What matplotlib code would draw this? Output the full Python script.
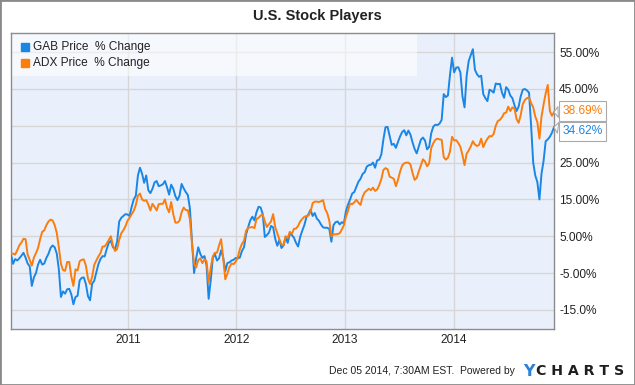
import numpy as np
import pandas as pd
import matplotlib
matplotlib.use("Agg")
import matplotlib.pyplot as plt
from matplotlib.patches import Rectangle

plt.rcParams["font.family"] = ["Liberation Sans", "DejaVu Sans"]

# weekly % change, Dec 04 2009 .. Dec 05 2014
start = "2009-12-04"
gab = [
    0.0, -2.5, -1.2, -1.6, -1.0, -0.3, 0.5, -0.8, -2.4, -3.2,
    -8.5, -6.2, -5.0, -2.7, -1.4, -2.7, -2.4, -0.9, 0.2, 1.8,
    2.5, 2.0, 0.3, -4.0, -11.5, -10.0, -10.6, -9.4, -9.3, -10.8,
    -13.5, -11.5, -11.2, -7.0, -6.3, -6.2, -8.0, -11.3, -12.4, -7.9,
    -7.1, -4.8, -2.6, -1.2, -0.4, -0.5, 1.5, 3.2, 3.8, 2.0,
    1.5, 3.5, 9.0, 10.0, 10.5, 11.0, 10.9, 10.5, 13.0, 15.0,
    16.0, 21.5, 23.6, 22.0, 19.5, 21.5, 17.5, 16.7, 17.9, 19.6,
    20.0, 18.6, 18.8, 19.1, 20.0, 18.3, 16.3, 19.0, 17.9, 15.9,
    14.8, 16.0, 19.2, 18.0, 17.0, 16.2, 12.5, 3.5, -5.0, -1.0,
    2.0, 0.2, -0.9, -0.4, -3.0, -12.0, -7.0, -0.9, 0.2, -1.6,
    -1.0, 1.2, -0.8, -4.5, -2.3, -2.1, -1.6, -1.4, -0.9, -1.0,
    -0.8, 1.0, 2.0, 5.5, 7.5, 9.3, 10.3, 9.3, 11.5, 13.0,
    12.8, 11.0, 4.8, 5.3, 6.0, 7.8, 7.4, 4.3, 2.4, 4.0,
    1.8, 2.5, 4.8, 3.2, 5.7, 5.3, 4.6, 3.2, 2.2, 4.8,
    6.5, 8.0, 10.2, 11.0, 12.2, 10.5, 11.3, 9.8, 9.2, 8.2,
    7.4, 7.3, 7.3, 7.0, 3.5, 8.0, 8.8, 9.0, 8.2, 8.8,
    8.5, 11.8, 13.6, 15.0, 16.6, 17.0, 18.4, 19.8, 20.6, 21.9,
    22.4, 23.9, 24.3, 24.4, 25.0, 23.6, 25.6, 25.8, 27.2, 31.3,
    34.6, 34.7, 32.3, 29.8, 30.1, 29.0, 30.6, 32.1, 33.3, 33.8,
    32.4, 33.7, 32.6, 30.5, 28.7, 27.5, 29.3, 31.2, 31.8, 31.0,
    28.6, 29.3, 33.0, 34.8, 35.3, 35.2, 35.6, 36.6, 43.6, 42.8,
    43.2, 48.8, 53.5, 49.5, 50.8, 50.9, 49.5, 43.0, 40.0, 48.5,
    52.6, 54.2, 55.8, 50.2, 49.0, 48.3, 48.6, 43.6, 42.5, 41.7,
    44.8, 44.5, 44.0, 46.5, 46.3, 46.4, 44.0, 42.6, 45.5, 44.8,
    43.2, 42.5, 40.6, 39.0, 40.2, 43.0, 44.8, 45.0, 44.6, 44.0,
    35.0, 25.0, 21.5, 19.7, 15.0, 22.0, 25.5, 30.8, 31.3, 32.0,
    33.1, 34.62,
]
adx = [
    0.2, 0.3, 0.0, 1.2, 2.5, 3.3, 4.3, 4.2, 0.0, -1.4,
    -3.0, -0.8, 0.4, 1.8, 4.2, 6.2, 6.6, 8.0, 9.0, 9.5,
    9.3, 8.0, 5.9, 2.0, -2.5, -4.2, -4.4, -2.0, -2.0, -6.0,
    -8.5, -4.0, -4.3, -1.8, -1.4, -1.3, -3.0, -6.5, -8.0, -6.0,
    -2.8, -1.6, -0.5, 0.4, 2.2, 2.2, 3.0, 4.0, 5.0, 2.5,
    1.0, 1.5, 4.0, 5.8, 6.6, 7.7, 9.2, 10.0, 11.0, 11.9,
    13.5, 16.0, 16.6, 15.0, 14.6, 14.8, 13.6, 12.0, 13.8, 13.0,
    12.0, 13.7, 13.8, 13.8, 15.0, 12.7, 11.5, 14.3, 11.0, 8.7,
    8.7, 9.2, 11.5, 12.8, 12.1, 12.1, 9.5, 3.0, -2.5, -3.5,
    -1.5, -1.0, -2.3, -1.3, -1.8, -7.5, -3.6, -0.5, 0.5, 0.5,
    2.5, 4.2, -1.0, -6.7, -5.2, -3.4, -2.4, -2.6, -1.9, -0.8,
    1.5, 2.9, 3.8, 6.5, 7.3, 7.4, 7.5, 7.2, 9.7, 10.0,
    10.6, 10.9, 9.0, 7.5, 8.3, 9.0, 11.0, 7.5, 5.8, 4.1,
    2.8, 2.5, 5.0, 4.5, 6.2, 5.6, 7.0, 7.1, 7.8, 9.0,
    9.7, 10.3, 10.5, 10.6, 11.6, 14.0, 14.4, 14.4, 14.3, 14.5,
    14.8, 12.4, 11.3, 9.2, 5.0, 5.5, 5.5, 5.6, 5.8, 6.8,
    8.0, 10.3, 11.9, 13.9, 13.7, 14.2, 14.9, 14.1, 13.5, 15.7,
    16.9, 17.4, 17.9, 17.5, 18.2, 17.3, 17.7, 18.9, 20.5, 23.0,
    23.5, 23.2, 21.2, 20.9, 20.6, 18.6, 20.3, 22.5, 24.2, 24.8,
    25.0, 25.0, 24.5, 22.2, 20.3, 20.8, 22.6, 24.2, 25.9, 25.3,
    24.0, 24.8, 29.0, 30.3, 31.2, 31.5, 31.3, 31.2, 26.5, 25.8,
    26.3, 28.0, 32.0, 31.0, 31.1, 30.3, 29.3, 27.0, 24.3, 27.4,
    28.3, 29.4, 30.8, 29.9, 29.5, 29.8, 31.5, 29.2, 30.5, 31.5,
    32.2, 32.1, 32.8, 35.0, 36.3, 36.6, 37.3, 38.4, 38.6, 40.2,
    39.0, 40.0, 39.7, 36.8, 35.8, 37.9, 40.9, 42.0, 42.5, 42.7,
    41.2, 40.0, 37.5, 36.0, 31.5, 37.5, 40.8, 43.8, 46.1, 39.0,
    37.7, 38.69,
]
names = ["GAB Price  % Change", "ADX Price  % Change"]
colors = ["#1a86e6", "#fb7d0c"]
end_labels = ["34.62%", "38.69%"]
end_offsets = [-3, 1]  # px, so the two boxes do not overlap
ytick_vals = [-15, -5, 5, 15, 25, 35, 45, 55]
# 35% label sits under the callout boxes in the original, so it is left blank
ytick_labels = ["-15.0%", "-5.00%", "5.00%", "15.00%", "25.00%", "", "45.00%", "55.00%"]
years = ["2011", "2012", "2013", "2014"]

dates = pd.date_range(start, periods=len(gab), freq="7D")

fig = plt.figure(figsize=(6.35, 3.85), dpi=100)
ax = fig.add_axes([11 / 635, 1 - 329 / 385, 543 / 635, 296 / 385])
ax.set_facecolor("#eaf0fb")

for vals, c in zip([gab, adx], colors):
    ax.plot(dates, vals, color=c, lw=1.4, zorder=3)

ax.set_xlim(dates[0], dates[-1])
ax.set_ylim(-20.2, 60.2)
ax.set_xticks([pd.Timestamp(y + "-01-01") for y in years])
ax.set_xticklabels(years)
ax.set_yticks(ytick_vals)
ax.set_yticklabels(ytick_labels)
ax.yaxis.tick_right()
ax.tick_params(axis="both", length=0, labelsize=8.6, labelcolor="#222222")
ax.tick_params(axis="y", pad=3.6)
ax.tick_params(axis="x", pad=3.6)
ax.grid(True, color="#d6d6d6", lw=1)
ax.set_axisbelow(True)
for s in ax.spines.values():
    s.set_color("#8c8c8c")
    s.set_linewidth(1)

# legend panel
ax.add_patch(Rectangle((0, 0.855), 0.748, 0.145, transform=ax.transAxes,
                       facecolor="white", alpha=0.55, edgecolor="none", zorder=2))
for k, (nm, c) in enumerate(zip(names, colors)):
    yy = 0.954 - k * 0.057
    ax.plot([0.0249], [yy], marker="s", ms=5.8, color=c, transform=ax.transAxes,
            clip_on=False, zorder=4)
    ax.text(0.0405, yy, nm, transform=ax.transAxes, va="center", ha="left",
            fontsize=8.6, color="#222222", zorder=4)

# end-value callouts
for vals, c, lab, off in zip([gab, adx], colors, end_labels, end_offsets):
    ax.annotate(lab, xy=(dates[-1], vals[-1]), xytext=(6, off), textcoords="offset points",
                ha="left", va="center", fontsize=8.6, color=c, annotation_clip=False,
                bbox=dict(boxstyle="square,pad=0.32", fc="white", ec="#aaaaaa", lw=0.8),
                arrowprops=dict(arrowstyle="wedge,tail_width=0.9", fc="white", ec="#aaaaaa",
                                lw=0.8, shrinkA=0, shrinkB=0),
                zorder=6)

fig.text(0.5, 1 - 16 / 385, "U.S. Stock Players", ha="center", va="center",
         fontsize=10.5, fontweight="bold", color="#222222")
fig.text(515 / 635, 1 - 371 / 385, "Dec 05 2014, 7:30AM EST.  Powered by", ha="right",
         va="center", fontsize=7.5, color="#222222")
fig.text(523 / 635, 1 - 371 / 385, "Y", ha="left", va="center", fontsize=11.5,
         fontweight="bold", color="#2a82d8", family="DejaVu Sans")
fig.text(536 / 635, 1 - 371 / 385, "C H A R T S", ha="left", va="center", fontsize=10.2,
         fontweight="bold", color="#1e1e1e", family="DejaVu Sans")

fig.patches.append(Rectangle((0, 0), 1, 1, transform=fig.transFigure, fill=False,
                             edgecolor="#8a8a8a", lw=2))

fig.savefig("out.png", dpi=100)
